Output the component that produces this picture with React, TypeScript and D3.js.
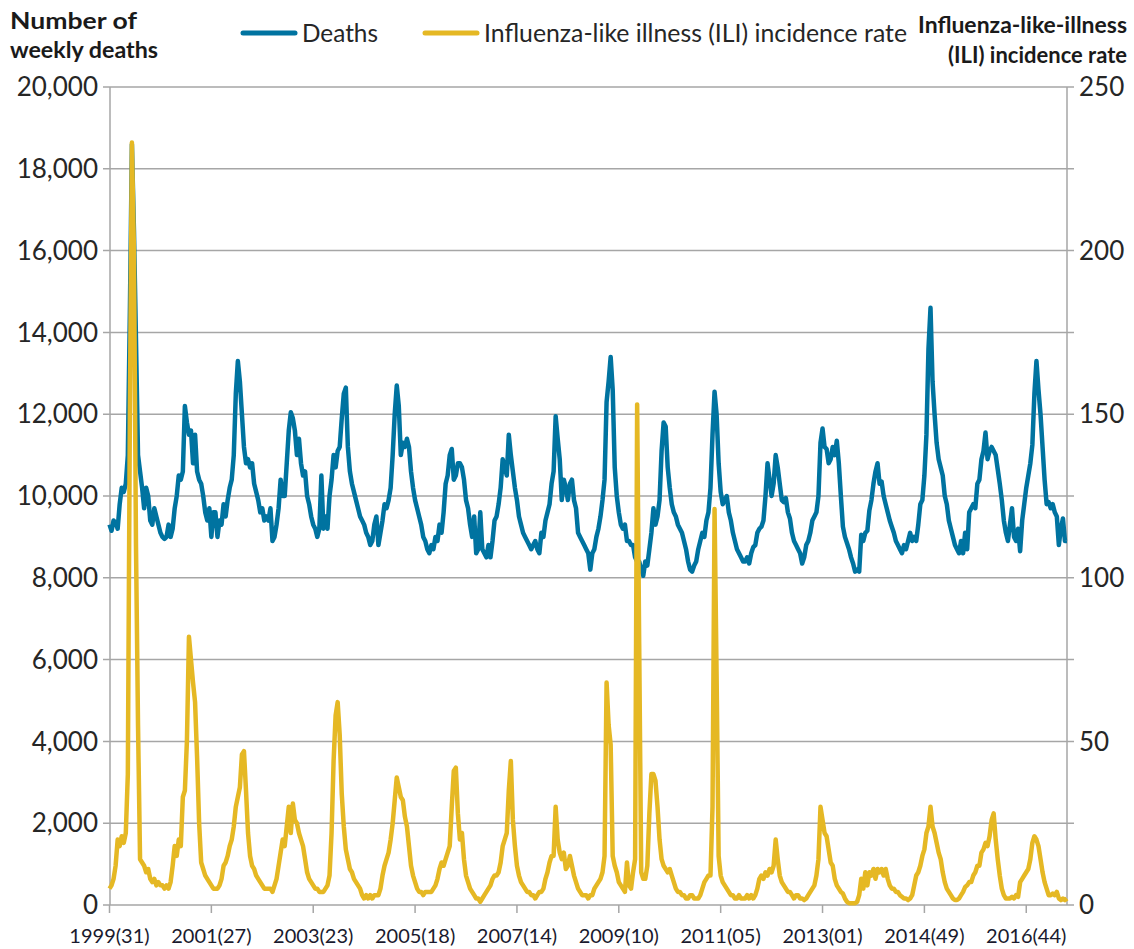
import { useEffect, useRef } from 'react';
import * as d3 from 'd3';

// x axis: one label every 100 weeks, starting 1999 week 31
const weekLabels = ['1999(31)', '2001(27)', '2003(23)', '2005(18)', '2007(14)', '2009(10)', '2011(05)', '2013(01)', '2014(49)', '2016(44)'];
const deathTicks = [0, 2000, 4000, 6000, 8000, 10000, 12000, 14000, 16000, 18000, 20000];
const iliTicks = [0, 50, 100, 150, 200, 250];
const lastWeek = 940;

// weekly deaths, one row per season (week 31 to week 30), read every second week
const deathsBySeason = [
  [9300, 9150, 9400, 9350, 9200, 9800, 10200, 10100, 10300, 11000, 14500, 18600, 16500, 13800, 11000, 10600, 10200, 9700, 10200, 10000, 9400, 9300, 9700, 9500, 9300, 9100],
  [9000, 8950, 9000, 9300, 9000, 9200, 9700, 10000, 10500, 10400, 10600, 12200, 11800, 11500, 11600, 10800, 11500, 10600, 10400, 10300, 10000, 9600, 9400, 9700, 9000, 9600],
  [9600, 9000, 9400, 9300, 9800, 9500, 9900, 10200, 10400, 11000, 12500, 13300, 12800, 12000, 11200, 10800, 10900, 10700, 10800, 10300, 10100, 9900, 9600, 9700, 9400, 9500],
  [9400, 9700, 8900, 9000, 9300, 9700, 10400, 10000, 10000, 10800, 11600, 12050, 11900, 11600, 11000, 11400, 10800, 10500, 10600, 10000, 9800, 9500, 9300, 9200, 9000, 9200],
  [10500, 9200, 9500, 9200, 10000, 10400, 11000, 10700, 11100, 11200, 11900, 12500, 12650, 11200, 10600, 10300, 10100, 9900, 9700, 9500, 9400, 9300, 9100, 9000, 8800, 8900],
  [9300, 9500, 8800, 9100, 9400, 9800, 9700, 9900, 10200, 11000, 12000, 12700, 12200, 11000, 11300, 11200, 11400, 11200, 10600, 10200, 9900, 9700, 9500, 9300, 9000, 8900],
  [8700, 8600, 8800, 8700, 9000, 8900, 9300, 9100, 9600, 10300, 10500, 11000, 11150, 10400, 10500, 10800, 10800, 10700, 10400, 9900, 9700, 9300, 9000, 9500, 8600, 8700],
  [9600, 8700, 8600, 8500, 8800, 8500, 8900, 9400, 9500, 9800, 10200, 10900, 10700, 10500, 11500, 11000, 10600, 10200, 9900, 9500, 9300, 9100, 9000, 8900, 8800, 8700],
  [8800, 8900, 8700, 8600, 9100, 9000, 9400, 9600, 9800, 10300, 10600, 11950, 11400, 10900, 9900, 10400, 10200, 9900, 10300, 10400, 9900, 9700, 9100, 9000, 8900, 8800],
  [8700, 8600, 8200, 8600, 8700, 9000, 9200, 9500, 9900, 10400, 12300, 12800, 13400, 12600, 10700, 10000, 9600, 9300, 9200, 9300, 8900, 8900, 8800, 8800, 8500, 8400],
  [8400, 8200, 8050, 8400, 8300, 8700, 9100, 9700, 9300, 9500, 9900, 11100, 11800, 11700, 10700, 10200, 9800, 9600, 9500, 9300, 9200, 9100, 8900, 8700, 8400, 8200],
  [8150, 8300, 8400, 8700, 8900, 9100, 9000, 9400, 9600, 10200, 11500, 12550, 12000, 10800, 10100, 9800, 9900, 10000, 9600, 9400, 9100, 8900, 8700, 8600, 8500, 8400],
  [8400, 8500, 8350, 8600, 8750, 8800, 9100, 9200, 9250, 9400, 10000, 10800, 10400, 10000, 10300, 11000, 10700, 10300, 9900, 9850, 9950, 9600, 9450, 9100, 8900, 8800],
  [8700, 8600, 8350, 8500, 8800, 8900, 9100, 9400, 9500, 9600, 10000, 11300, 11650, 11200, 11150, 10800, 10900, 11200, 11000, 11350, 10800, 10000, 9250, 9000, 8850, 8700],
  [8500, 8350, 8150, 8200, 8150, 9050, 8900, 9100, 9150, 9650, 9900, 10300, 10600, 10800, 10300, 10350, 10000, 9800, 9600, 9400, 9250, 9100, 8900, 8800, 8700, 8600],
  [8800, 8700, 8900, 9100, 8900, 9000, 8900, 9300, 9800, 9900, 10500, 11500, 13600, 14600, 12800, 12000, 11300, 10900, 10700, 10500, 10000, 9800, 9400, 9200, 9000, 8800],
  [8700, 8600, 8900, 8600, 9100, 8700, 9600, 9700, 9800, 9700, 10300, 10400, 10900, 11100, 11550, 10900, 11100, 11200, 11100, 11000, 10650, 10300, 9900, 9400, 9100, 8900],
  [9300, 9700, 9000, 8900, 9200, 8650, 9400, 9800, 10200, 10500, 10800, 11250, 12500, 13300, 12600, 12000, 11200, 10400, 9800, 9850, 9700, 9800, 9600, 9500, 8800, 9200, 9450, 8900, 8900],
];

// ILI incidence rate per 100,000, same layout
const iliBySeason = [
  [5, 6, 8, 12, 20, 18, 21, 19, 22, 40, 150, 233, 200, 110, 55, 14, 13, 12, 10, 11, 8, 7, 8, 6, 7, 6],
  [6, 5, 6, 5, 7, 12, 18, 15, 20, 18, 33, 35, 50, 82, 75, 68, 62, 45, 25, 13, 11, 9, 8, 7, 6, 5],
  [5, 5, 6, 8, 12, 13, 15, 18, 20, 24, 30, 33, 36, 46, 47, 35, 22, 15, 12, 11, 9, 8, 7, 6, 5, 5],
  [5, 5, 4, 6, 8, 12, 16, 20, 18, 24, 30, 22, 31, 26, 25, 22, 20, 18, 14, 10, 8, 7, 6, 5, 5, 4],
  [4, 4, 5, 6, 9, 22, 44, 58, 62, 52, 34, 24, 17, 14, 11, 10, 8, 7, 6, 5, 3, 2, 3, 2, 3, 2],
  [3, 3, 3, 5, 9, 12, 14, 16, 20, 25, 32, 39, 36, 33, 32, 27, 24, 18, 12, 9, 7, 5, 4, 4, 3, 4],
  [4, 4, 4, 5, 6, 8, 11, 13, 12, 14, 16, 18, 30, 41, 42, 28, 20, 22, 14, 9, 7, 5, 4, 3, 2, 2],
  [1, 2, 3, 4, 5, 6, 8, 9, 9, 10, 13, 18, 20, 22, 35, 44, 26, 18, 12, 9, 7, 6, 5, 4, 4, 3],
  [3, 2, 3, 4, 4, 5, 8, 10, 13, 15, 15, 30, 20, 16, 14, 16, 11, 12, 15, 12, 9, 7, 5, 4, 3, 3],
  [3, 2, 3, 3, 5, 6, 7, 8, 10, 15, 68, 55, 49, 15, 12, 10, 7, 6, 5, 4, 13, 6, 5, 10, 14, 153],
  [80, 10, 8, 8, 12, 28, 40, 40, 38, 30, 20, 14, 12, 11, 10, 11, 9, 7, 5, 4, 4, 3, 3, 2, 2, 3],
  [3, 2, 2, 2, 3, 5, 7, 8, 9, 9, 30, 121, 70, 15, 9, 7, 6, 5, 4, 3, 3, 2, 2, 3, 2, 2],
  [2, 3, 2, 3, 2, 3, 5, 8, 9, 8, 10, 9, 11, 10, 12, 20, 14, 9, 7, 6, 5, 4, 4, 3, 2, 3],
  [3, 2, 2, 1.5, 2, 3, 4, 5, 6, 9, 14, 30, 26, 22, 21, 17, 13, 12, 8, 6, 5, 4, 3.5, 2, 1, 0.5],
  [0.5, 0.5, 0.5, 1, 3, 8, 5, 10, 6, 10, 9, 11, 8, 11, 10, 11, 9, 11, 8, 6, 5, 5, 4, 4, 3, 2.5],
  [2, 2, 1.5, 2, 3, 6, 9, 10, 12, 15, 17, 22, 24, 30, 24, 22, 19, 16, 14, 10, 7, 5, 4, 3, 2, 1.5],
  [1.5, 2, 3, 4, 5.5, 6, 7, 7, 9, 10, 12, 12, 16, 17, 19, 18, 21, 26, 28, 20, 14, 9, 5, 3, 2, 2],
  [2, 2.5, 2, 3, 2.5, 7, 8, 9, 10, 11, 14, 19, 21, 20, 18, 14, 10, 7, 5, 3, 3, 3.5, 3, 4, 2, 1.5, 2, 1.5, 2],
];

const BLUE = '#0073A0';
const GOLD = '#E5B824';
const GRID = '#A6A6A6';
const FONT = 'Lato, "Open Sans", sans-serif';

type Pt = { week: number; value: number };

function toPoints(rows: number[][]): Pt[] {
  return rows.flatMap((vals, s) => vals.map((v, i) => ({ week: s * 52 + i * 2, value: v })));
}

export default function App() {
  const ref = useRef<SVGSVGElement>(null);

  useEffect(() => {
    const svg = d3.select(ref.current);
    svg.selectAll('*').remove();

    const left = 110, right = 1067, top = 87, bottom = 905;

    const x = d3.scaleLinear().domain([0, lastWeek]).range([left - 0.5, right]);
    const yDeaths = d3.scaleLinear().domain([0, 20000]).range([bottom, top]);
    const yIli = d3.scaleLinear().domain([0, 250]).range([bottom, top]);

    // gridlines + outward ticks on both sides
    svg.append('g')
      .selectAll('line')
      .data(deathTicks)
      .enter().append('line')
      .attr('x1', left - 7)
      .attr('x2', right + 7)
      .attr('y1', d => yDeaths(d))
      .attr('y2', d => yDeaths(d))
      .attr('stroke', GRID)
      .attr('stroke-width', 1.5);

    // vertical axis lines
    [left, right].forEach(px => {
      svg.append('line')
        .attr('x1', px).attr('x2', px)
        .attr('y1', top).attr('y2', bottom)
        .attr('stroke', GRID)
        .attr('stroke-width', 1.5);
    });

    // x ticks and labels
    const xTicks = weekLabels.map((label, i) => ({ label, week: i * 100 }));
    svg.append('g')
      .selectAll('line')
      .data(xTicks)
      .enter().append('line')
      .attr('x1', d => x(d.week))
      .attr('x2', d => x(d.week))
      .attr('y1', bottom)
      .attr('y2', bottom + 8)
      .attr('stroke', GRID)
      .attr('stroke-width', 1.5);

    svg.append('g')
      .attr('font-family', FONT)
      .attr('font-size', 20)
      .attr('fill', '#1a1a2e')
      .attr('text-anchor', 'middle')
      .selectAll('text')
      .data(xTicks)
      .enter().append('text')
      .attr('x', d => x(d.week))
      .attr('y', 943)
      .text(d => d.label);

    // left axis labels
    svg.append('g')
      .attr('font-family', FONT)
      .attr('font-size', 26)
      .attr('fill', '#262626')
      .attr('text-anchor', 'end')
      .selectAll('text')
      .data(deathTicks)
      .enter().append('text')
      .attr('x', 98)
      .attr('y', d => yDeaths(d))
      .attr('dy', '0.35em')
      .text(d => d3.format(',')(d));

    // right axis labels
    svg.append('g')
      .attr('font-family', FONT)
      .attr('font-size', 26)
      .attr('fill', '#262626')
      .attr('text-anchor', 'start')
      .selectAll('text')
      .data(iliTicks)
      .enter().append('text')
      .attr('x', 1079)
      .attr('y', d => yIli(d))
      .attr('dy', '0.35em')
      .text(d => String(d));

    // series
    const deathsLine = d3.line<Pt>()
      .x(d => x(d.week))
      .y(d => yDeaths(d.value));

    const iliLine = d3.line<Pt>()
      .x(d => x(d.week))
      .y(d => yIli(d.value));

    svg.append('path')
      .datum(toPoints(deathsBySeason))
      .attr('fill', 'none')
      .attr('stroke', BLUE)
      .attr('stroke-width', 4.5)
      .attr('stroke-linejoin', 'round')
      .attr('d', deathsLine);

    svg.append('path')
      .datum(toPoints(iliBySeason))
      .attr('fill', 'none')
      .attr('stroke', GOLD)
      .attr('stroke-width', 4.5)
      .attr('stroke-linejoin', 'round')
      .attr('d', iliLine);

    // axis titles
    const titles = svg.append('g')
      .attr('font-family', FONT)
      .attr('font-weight', 'bold')
      .attr('font-size', 23)
      .attr('fill', '#1a1a1a');

    titles.append('text').attr('x', 10).attr('y', 29).attr('textLength', 127).attr('lengthAdjust', 'spacingAndGlyphs').text('Number of');
    titles.append('text').attr('x', 10).attr('y', 58).attr('textLength', 148).attr('lengthAdjust', 'spacingAndGlyphs').text('weekly deaths');
    titles.append('text').attr('x', 1127).attr('y', 33).attr('text-anchor', 'end').attr('textLength', 209).attr('lengthAdjust', 'spacingAndGlyphs').text('Influenza-like-illness');
    titles.append('text').attr('x', 1127).attr('y', 63).attr('text-anchor', 'end').attr('textLength', 179).attr('lengthAdjust', 'spacingAndGlyphs').text('(ILI) incidence rate');

    // legend
    const legend = svg.append('g')
      .attr('font-family', FONT)
      .attr('font-size', 25)
      .attr('fill', '#262626');

    const items = [
      { label: 'Deaths', color: BLUE, x1: 243, width: 76 },
      { label: 'Influenza-like illness (ILI) incidence rate', color: GOLD, x1: 425, width: 423 },
    ];

    items.forEach(it => {
      legend.append('line')
        .attr('x1', it.x1).attr('x2', it.x1 + 52)
        .attr('y1', 33).attr('y2', 33)
        .attr('stroke', it.color)
        .attr('stroke-width', 5)
        .attr('stroke-linecap', 'round');
      legend.append('text')
        .attr('x', it.x1 + 59)
        .attr('y', 42)
        .attr('textLength', it.width)
        .attr('lengthAdjust', 'spacingAndGlyphs')
        .text(it.label);
    });
  }, []);

  return (
    <svg
      ref={ref}
      width={1134}
      height={949}
      style={{ position: 'absolute', left: 0, top: 0, background: '#fff' }}
    />
  );
}
